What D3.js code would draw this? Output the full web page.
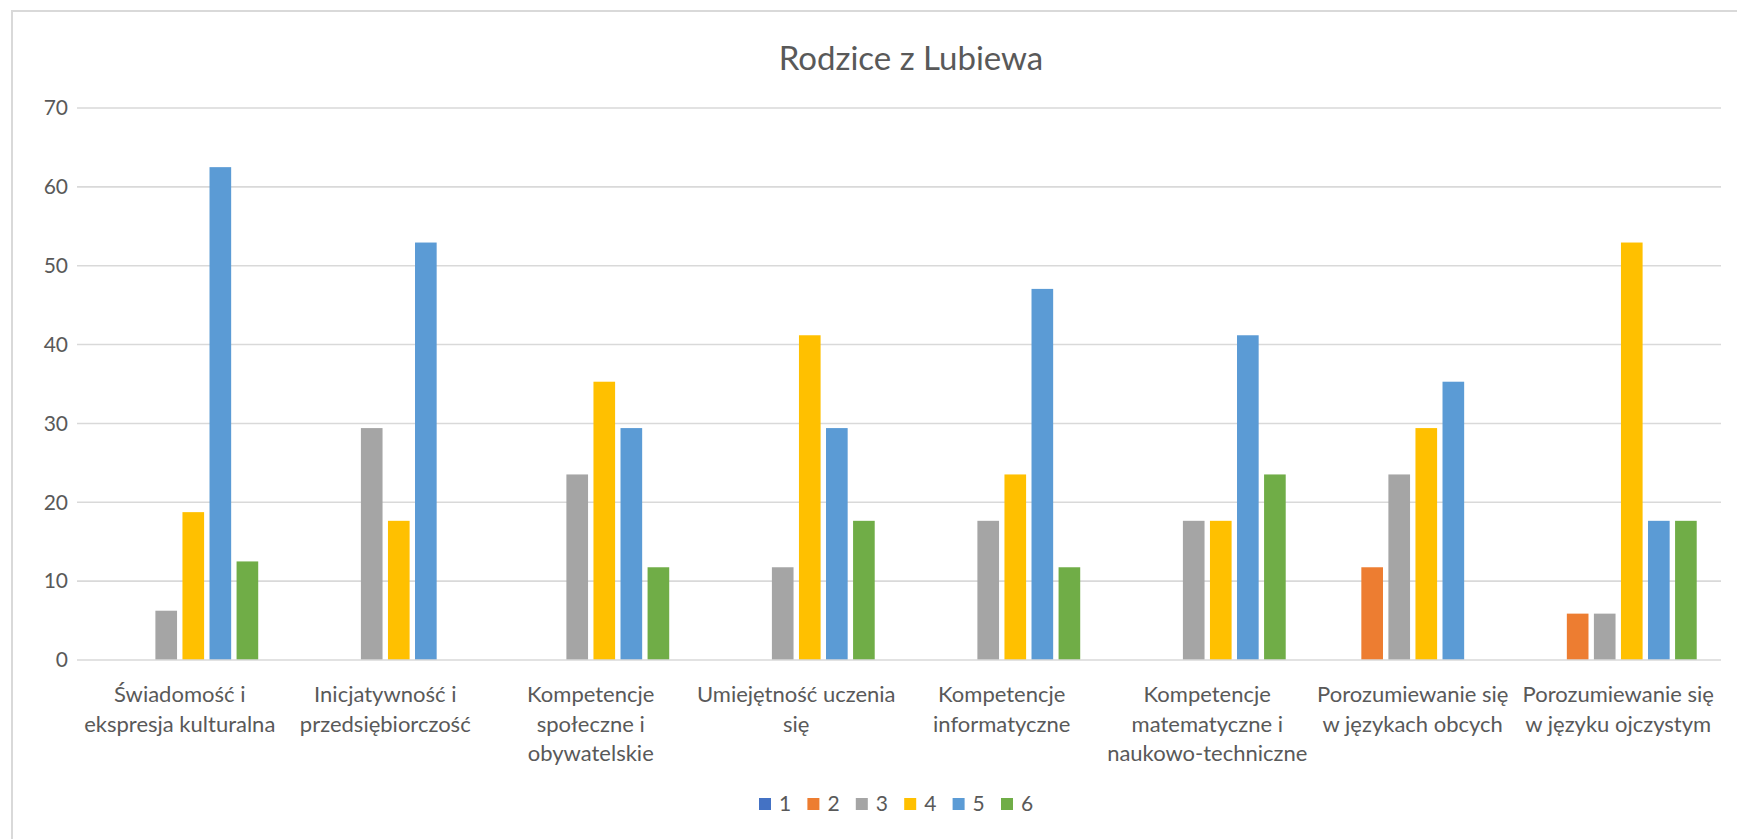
<!DOCTYPE html>
<html lang="pl">
<head>
    <meta charset="UTF-8">
    <title>Rodzice z Lubiewa</title>
    <script src="https://d3js.org/d3.v7.min.js"></script>
    <style>
        body { margin: 0; background: #fff; }
        svg { display: block; font-family: Lato, "Open Sans", sans-serif; }
    </style>
</head>
<body>
    <div id="chart"></div>
    <script>
        // Data
        const categories = [
            ['Świadomość i', 'ekspresja kulturalna'],
            ['Inicjatywność i', 'przedsiębiorczość'],
            ['Kompetencje', 'społeczne i', 'obywatelskie'],
            ['Umiejętność uczenia', 'się'],
            ['Kompetencje', 'informatyczne'],
            ['Kompetencje', 'matematyczne i', 'naukowo-techniczne'],
            ['Porozumiewanie się', 'w językach obcych'],
            ['Porozumiewanie się', 'w języku ojczystym']
        ];
        const seriesNames = ['1', '2', '3', '4', '5', '6'];
        const s1 = [0, 0, 0, 0, 0, 0, 0, 0];
        const s2 = [0, 0, 0, 0, 0, 0, 11.76, 5.88];
        const s3 = [6.25, 29.41, 23.53, 11.76, 17.65, 17.65, 23.53, 5.88];
        const s4 = [18.75, 17.65, 35.29, 41.18, 23.53, 17.65, 29.41, 52.94];
        const s5 = [62.5, 52.94, 29.41, 29.41, 47.06, 41.18, 35.29, 17.65];
        const s6 = [12.5, 0, 11.76, 17.65, 11.76, 23.53, 0, 17.65];
        const seriesValues = [s1, s2, s3, s4, s5, s6];
        const colors = ['#4472c4', '#ed7d31', '#a5a5a5', '#ffc000', '#5b9bd5', '#70ad47'];
        const yTicks = [0, 10, 20, 30, 40, 50, 60, 70];

        const W = 1737, H = 839;
        const plotLeft = 77, plotRight = 1721, plotTop = 108, plotBottom = 660;

        const svg = d3.select('#chart').append('svg')
            .attr('width', W).attr('height', H);

        // chart border
        svg.append('rect')
            .attr('x', 12).attr('y', 11)
            .attr('width', W).attr('height', H)
            .attr('fill', 'none').attr('stroke', '#d9d9d9').attr('stroke-width', 2);

        svg.append('text')
            .attr('x', 911).attr('y', 70)
            .attr('text-anchor', 'middle')
            .attr('font-size', 33).attr('fill', '#595959')
            .text('Rodzice z Lubiewa');

        const x = d3.scaleBand().domain(d3.range(categories.length)).range([plotLeft, plotRight]).paddingInner(0.21).paddingOuter(0.105);
        const xs = d3.scaleBand().domain(d3.range(seriesNames.length)).range([0, x.bandwidth()]).paddingInner(0.2).paddingOuter(0.1);
        const y = d3.scaleLinear().domain([0, 70]).range([plotBottom, plotTop]);

        // gridlines
        svg.append('g').selectAll('line').data(yTicks.slice(1)).join('line')
            .attr('x1', plotLeft).attr('x2', plotRight)
            .attr('y1', d => y(d)).attr('y2', d => y(d))
            .attr('stroke', '#d9d9d9').attr('stroke-width', 1.6);

        const yAxis = svg.append('g')
            .attr('transform', `translate(${plotLeft},0)`)
            .call(d3.axisLeft(y).tickValues(yTicks).tickSize(0).tickPadding(9));
        yAxis.select('.domain').remove();
        yAxis.selectAll('text').attr('font-size', 21).attr('fill', '#595959')
            .attr('font-family', 'Lato, sans-serif');

        // bars
        const groups = svg.append('g').selectAll('g').data(categories.map((c, i) => i)).join('g')
            .attr('transform', i => `translate(${x(i)},0)`);
        groups.selectAll('rect')
            .data(i => seriesValues.map((s, k) => ({ k, v: s[i] })).filter(d => d.v > 0))
            .join('rect')
            .attr('x', d => xs(d.k))
            .attr('width', xs.bandwidth())
            .attr('y', d => y(d.v))
            .attr('height', d => y(0) - y(d.v))
            .attr('fill', d => colors[d.k]);

        // x axis line
        svg.append('line')
            .attr('x1', plotLeft).attr('x2', plotRight)
            .attr('y1', plotBottom).attr('y2', plotBottom)
            .attr('stroke', '#d9d9d9').attr('stroke-width', 1.6);

        // category labels
        const catStep = (plotRight - plotLeft) / categories.length;
        const labels = svg.append('g').selectAll('text').data(categories).join('text')
            .attr('x', (d, i) => plotLeft + catStep * (i + 0.5))
            .attr('y', 702)
            .attr('text-anchor', 'middle')
            .attr('font-size', 22).attr('fill', '#595959');
        labels.selectAll('tspan').data(d => d).join('tspan')
            .attr('x', function () { return this.parentNode.getAttribute('x'); })
            .attr('dy', (d, j) => j === 0 ? 0 : 29.5)
            .text(d => d);

        // legend
        const legend = svg.append('g').selectAll('g').data(seriesNames).join('g')
            .attr('transform', (d, i) => `translate(${759 + i * 48.4},798)`);
        legend.append('rect').attr('width', 12).attr('height', 12).attr('fill', (d, i) => colors[i]);
        legend.append('text').attr('x', 20).attr('y', 13)
            .attr('font-size', 21).attr('fill', '#595959').text(d => d);
    </script>
</body>
</html>
